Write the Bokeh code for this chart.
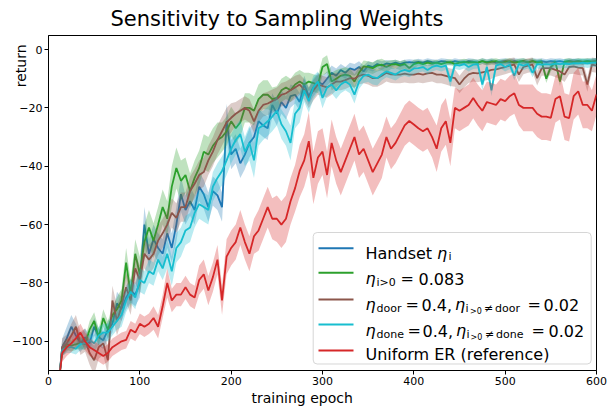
import math
from bokeh.plotting import figure
from bokeh.models import Label, BoxAnnotation, FixedTicker, Range1d, Title
from bokeh.embed import file_html
from bokeh.resources import INLINE

# ---------------- data ----------------
epochs = [12] + list(range(15, 601, 5))

x_ticks = [0, 100, 200, 300, 400, 500, 600]
x_tick_labels = ["0", "100", "200", "300", "400", "500", "600"]
y_ticks = [0, -20, -40, -60, -80, -100]
y_tick_labels = ["0", "\u221220", "\u221240", "\u221260", "\u221280", "\u2212100"]

handset = [
    -112, -102, -99, -95, -98, -100.7, -98.6, -100.7, -95, -98.6,
    -99.6, -96, -94, -87, -89, -85, -82.6, -84, -80, -60,
    -70, -65, -68, -70, -63, -68, -60, -49.6, -55, -52,
    -55, -47, -49.6, -54, -48.5, -50, -54, -24.6, -36, -34,
    -39, -36, -32, -30, -24.6, -26, -27, -19, -22, -18,
    -20, -16, -15.5, -18, -12, -16, -13, -11, -12, -10,
    -8, -9, -7, -8, -6.5, -7, -6, -7.5, -5.5, -6,
    -5, -5.5, -4.8, -5, -4.5, -5, -4.5, -4.3, -4.5, -4.2,
    -4.5, -4, -4.3, -4.5, -4, -4.2, -4.5, -4, -4.3, -4.5,
    -4, -4.2, -4.5, -4, -4.3, -4, -4.5, -4.2, -4, -4.3,
    -4, -4.2, -4, -4.5, -4, -4.2, -4, -4.3, -4, -4.2,
    -4, -4.3, -4, -4.2, -4, -4.3, -4, -4.2, -4,
]
handset_sd = [
    3, 3, 4, 4, 4, 3, 3, 3, 3, 3,
    3, 3, 3, 4, 4, 4, 4, 4, 5, 6,
    5, 5, 5, 5, 5, 5, 6, 6, 5, 5,
    5, 5, 5, 5, 5, 5, 5, 6, 5, 5,
    5, 5, 5, 5, 4, 4, 4, 4, 4, 4,
    4, 4, 3, 3, 3, 3, 3, 3, 3, 2.5,
    2.5, 2.5, 2, 2, 2, 2, 2, 2, 1.5, 1.5,
    1.5, 1.5, 1.2, 1.2, 1, 1, 1, 1, 1, 1,
    1, 1, 1, 1, 1, 1, 1, 1, 1, 1,
    1, 1, 1, 1, 1, 1, 1, 1, 1, 1,
    1, 1, 1, 1, 1, 1, 1, 1, 1, 1,
    1, 1, 1, 1, 1, 1, 1, 1, 1,
]

eta_all = [
    -112, -103, -101, -101.5, -101, -100.5, -101, -96, -93, -98.6,
    -92, -96, -91, -89, -86, -73, -84, -70, -77, -66,
    -61, -65.5, -60, -54, -58, -47, -40.6, -45, -43, -48.5,
    -44, -40.6, -35, -36, -33, -31, -30, -28, -24.6, -27,
    -25, -20, -20, -21, -17, -15.5, -15.5, -17, -16.6, -14,
    -13, -14, -12, -11, -12, -11, -11.5, -12, -6, -5,
    -11, -10, -9, -8.6, -9, -11, -8, -5.8, -6, -6.4,
    -5.5, -5.2, -6, -5.2, -5, -5.5, -5, -6.4, -5, -4.5,
    -5, -4.5, -4.8, -4.5, -5, -4.5, -4.3, -5, -4.5, -4.2,
    -4.5, -4.3, -4.5, -4, -4.5, -4.2, -4, -4.5, -4.2, -4,
    -4.5, -4.2, -4, -4.3, -4, -4.5, -4.2, -10, -6, -4.3,
    -11, -4.2, -4, -4.3, -4, -4.2, -4, -4.2, -4,
]
eta_all_sd = [
    2, 2, 2, 2, 2, 2, 2, 3, 3, 3,
    3, 3, 3, 4, 4, 5, 5, 5, 6, 6,
    6, 6, 6, 6, 6, 7, 7, 7, 6, 6,
    6, 6, 6, 6, 6, 6, 5, 5, 5, 5,
    5, 5, 5, 5, 5, 5, 5, 4, 4, 4,
    4, 4, 4, 4, 4, 3, 3, 3, 3, 3,
    3, 3, 2.5, 2.5, 2.5, 2.5, 2, 2, 2, 2,
    2, 2, 2, 1.5, 1.5, 1.5, 1.5, 1.5, 1.5, 1,
    1, 1, 1, 1, 1, 1, 1, 1, 1, 1,
    1, 1, 1, 1, 1, 1, 1, 1, 1, 1,
    1, 1, 1, 1, 1, 1, 1, 1.5, 1.5, 1,
    1.5, 1, 1, 1, 1, 1, 1, 1, 1,
]

eta_door = [
    -112, -102, -100.7, -98, -95, -100.7, -99.6, -104, -106.5, -102,
    -100.7, -106.5, -86, -93, -88, -81.5, -86, -75, -79, -70,
    -72, -70, -65.5, -63, -60, -56, -57.7, -54, -54, -48.5,
    -46, -43, -42, -38, -35, -31, -28, -25, -23.4, -22,
    -21, -20, -21, -24.6, -21, -19, -18.5, -17.7, -17, -15.5,
    -15, -14, -13, -12, -13.7, -16.6, -14, -12, -12.5, -13,
    -12, -11, -11, -10.5, -9.8, -10, -9, -8.6, -9, -9.8,
    -9.8, -9, -8, -8.5, -8.6, -8.6, -8.3, -8.6, -8.6, -8.3,
    -8.6, -8.2, -8, -8.6, -8.6, -9, -9.5, -9.8, -12, -10,
    -8.5, -8, -8.2, -7.8, -7.5, -7, -6.8, -6.4, -6, -5.5,
    -5.2, -8.6, -6, -5.5, -5.2, -9.8, -6.5, -6.4, -6.4, -7,
    -7.5, -8.6, -6, -5.8, -6.2, -6.4, -12, -5.2, -5.5,
]
eta_door_sd = [
    3, 3, 3, 4, 4, 4, 4, 4, 5, 4,
    4, 5, 5, 5, 5, 5, 5, 5, 5, 5,
    5, 5, 5, 5, 5, 5, 5, 5, 5, 5,
    5, 5, 5, 5, 5, 5, 5, 5, 5, 4,
    4, 4, 4, 4, 4, 4, 4, 4, 4, 4,
    4, 4, 4, 3.5, 3.5, 3.5, 3.5, 3.5, 3.5, 3.5,
    3.5, 3, 3, 3, 3, 3, 3, 3, 3, 3,
    3, 3, 3, 3, 3, 3, 3, 3, 3, 3,
    3, 3, 3, 3, 3, 3, 3, 3, 3, 3,
    3, 3, 3, 3, 3, 3, 2.5, 2.5, 2.5, 2.5,
    2.5, 2.5, 2.5, 2.5, 2.5, 2.5, 2.5, 2.5, 2.5, 2.5,
    2.5, 2.5, 2.5, 2.5, 2.5, 2.5, 2.5, 2.5, 2.5,
]

eta_done = [
    -112, -103, -102, -102, -102.5, -101, -100.7, -99.6, -100.7, -98,
    -97, -97, -95, -93, -91, -86, -83, -85, -79, -80,
    -76, -77, -72, -75, -70, -76, -68, -66, -62, -61,
    -56, -53, -54, -55, -47, -44, -41.6, -38, -34, -31,
    -29, -35, -32, -38, -27, -26, -24.6, -23, -21, -25.6,
    -28, -32, -22, -20, -14, -17.7, -13, -11, -16.6, -13,
    -12, -14, -12, -11, -12, -15.5, -11, -9, -8.6, -9.5,
    -9.8, -8.5, -7.5, -8, -8.6, -7.5, -7, -7.5, -6.5, -6.4,
    -6, -7, -6, -5.5, -6, -5.5, -11, -5.2, -5.5, -5,
    -6, -5.2, -5, -12, -6, -14, -5.5, -5, -6, -5.2,
    -9, -5, -5.5, -5, -8, -5, -5.2, -5, -5.2, -4.8,
    -5, -4.8, -5, -4.7, -4.8, -4.5, -4.8, -4.5, -4.5,
]
eta_done_sd = [
    2, 2, 2, 2, 2, 2, 2, 2, 3, 3,
    3, 3, 3, 3, 4, 4, 4, 4, 4, 4,
    4, 4, 4, 4, 5, 5, 5, 5, 5, 5,
    5, 5, 5, 5, 5, 5, 5, 5, 5, 5,
    5, 5, 6, 6, 6, 5, 5, 5, 5, 5,
    5, 6, 5, 5, 4, 4, 4, 3.5, 3.5, 3,
    3, 3, 3, 3, 3, 3, 2.5, 2.5, 2.5, 2.5,
    2.5, 2, 2, 2, 2, 2, 2, 2, 2, 1.5,
    1.5, 1.5, 1.5, 1.5, 1.5, 1.5, 2, 1.5, 1.5, 1.5,
    1.5, 1.5, 1.5, 2, 1.5, 2, 1.5, 1.5, 1.5, 1.5,
    1.5, 1.5, 1.5, 1.5, 1.5, 1.5, 1.5, 1.5, 1.5, 1.5,
    1.5, 1.5, 1.5, 1.5, 1.5, 1.5, 1.5, 1.5, 1.5,
]

uniform_er = [
    -112, -104, -102, -100.7, -99, -97, -100, -102, -103, -104,
    -105, -104, -102, -101, -100, -99.5, -96, -97, -94, -95,
    -94, -92, -95, -88, -80, -86, -84, -84, -81.5, -84,
    -85, -79, -77, -82.6, -78, -72, -86, -71, -68, -66,
    -61, -66, -70, -64, -62, -58, -54, -58, -58, -60,
    -58, -52, -47.5, -41.6, -38, -31.4, -44, -37, -35, -43,
    -32, -38, -42, -38, -34, -30, -36, -34, -38, -42,
    -39, -36, -30, -34, -32, -29, -26, -24.5, -25.7, -27,
    -28, -27, -30, -34, -27, -24.6, -32, -20, -21, -20,
    -19, -16.6, -19, -21, -18, -18.5, -19, -17, -17.7, -16,
    -15, -19, -20, -20, -20, -22, -23, -23, -23.4, -17,
    -16, -23, -23.5, -16, -14.3, -19, -19, -21, -15.4,
]
uniform_er_sd = [
    2, 3, 3, 3, 3, 3, 3, 3, 3, 3,
    3, 3, 3, 3, 3, 3, 3, 3, 3.5, 3.5,
    3.5, 4, 4, 4, 5, 4, 4, 4, 4, 4,
    4, 5, 5, 5, 5, 5, 5, 6, 6, 6,
    6, 6, 6, 6, 7, 7, 7, 7, 8, 8,
    8, 8, 8, 9, 9, 10, 9, 9, 8, 8,
    8, 8, 8, 8, 8, 8, 8, 8, 8, 8,
    8, 8, 7, 7, 7, 7, 7, 7, 7, 7,
    7, 7, 7, 8, 8, 8, 8, 7, 7, 7,
    7, 7, 7, 7, 7, 7, 7, 7, 7, 7,
    7, 7, 8, 8, 8, 8, 8, 8, 8, 8,
    8, 8, 8, 8, 8, 8, 8, 7, 7,
]

series = [
    (handset, handset_sd, "#1f77b4"),
    (eta_all, eta_all_sd, "#2ca02c"),
    (eta_door, eta_door_sd, "#8c564b"),
    (eta_done, eta_done_sd, "#17becf"),
    (uniform_er, uniform_er_sd, "#d62728"),
]

# ---------------- figure ----------------
FONT = "DejaVu Sans"

p = figure(width=607, height=408, output_backend="svg", toolbar_location=None,
           x_range=Range1d(0, 600), y_range=Range1d(-110, 4.8),
           min_border_left=48, min_border_right=11, min_border_top=34,
           min_border_bottom=38)

# title (left-aligned with an offset, as in the reference)
p.title.text = "Sensitivity to Sampling Weights"
p.title.text_font = FONT
p.title.text_font_size = "21px"
p.title.text_font_style = "normal"
p.title.text_color = "black"
p.title.align = "left"
p.title.offset = 62
p.title.standoff = 9
p.title.vertical_align = "bottom"

p.xgrid.visible = False
p.ygrid.visible = False
p.outline_line_color = "black"
p.outline_line_alpha = 1
p.outline_line_width = 1
p.background_fill_color = "white"
p.border_fill_color = "white"

p.xaxis.ticker = FixedTicker(ticks=x_ticks)
p.xaxis.major_label_overrides = dict(zip(x_ticks, x_tick_labels))
p.yaxis.ticker = FixedTicker(ticks=y_ticks)
p.yaxis.major_label_overrides = dict(zip(y_ticks, y_tick_labels))
for ax in (p.xaxis, p.yaxis):
    ax.axis_line_color = "black"
    ax.major_tick_line_color = "black"
    ax.major_tick_out = 4
    ax.major_tick_in = 0
    ax.minor_tick_line_color = None
    ax.major_label_text_font = FONT
    ax.major_label_text_font_size = "11px"
    ax.major_label_text_color = "black"
    ax.major_label_standoff = 2

# y axis label, rotated, placed toward the top end as in the reference
yax = p.yaxis[0]
yax.axis_label = "return\u00a0\u00a0"
yax.axis_label_text_font = FONT
yax.axis_label_text_font_size = "14px"
yax.axis_label_text_font_style = "normal"
yax.axis_label_text_color = "black"
yax.axis_label_standoff = -12
yax.axis_label_orientation = math.pi / 2
if "axis_label_align" in yax.properties():
    yax.axis_label_align = "end"

# x axis label as a left-offset title below the axis
p.add_layout(Title(text="training epoch", align="left", offset=203, standoff=1,
                   text_font=FONT, text_font_size="14px",
                   text_font_style="normal", text_color="black"), "below")

for vals, sd, col in series:
    lo = [v - s for v, s in zip(vals, sd)]
    hi = [v + s for v, s in zip(vals, sd)]
    p.varea(x=epochs, y1=lo, y2=hi, fill_color=col, fill_alpha=0.3)
    p.line(epochs, vals, line_color=col, line_width=1.8)

def lab(text, x, y, size="16px", style="normal"):
    p.add_layout(Label(x=x, y=y, x_units="screen", y_units="screen", text=text,
                       text_font=FONT, text_font_size=size,
                       text_font_style=style, text_align="left",
                       text_baseline="alphabetic", text_color="black"))

# legend (box, line samples, and mathtext-like labels)
p.add_layout(BoxAnnotation(left=264.7, right=542.7, top=138, bottom=6.5,
                           left_units="screen", right_units="screen",
                           top_units="screen", bottom_units="screen",
                           fill_color="white", fill_alpha=0.8,
                           line_color="#cccccc", line_alpha=0.8,
                           line_width=1, border_radius=4))

sample_y = [122.3, 97.7, 71, 46, 20]
for (vals, sd, col), sy in zip(series, sample_y):
    p.add_layout(BoxAnnotation(left=270, right=305, top=sy + 1, bottom=sy - 1,
                               left_units="screen", right_units="screen",
                               top_units="screen", bottom_units="screen",
                               fill_color=col, fill_alpha=1, line_alpha=0))

SUB = "11px"
SUBSUB = "8px"
# row 1
lab("Handset", 317, 117)
lab("\u03b7", 388.5, 117, style="italic")
lab("i", 400, 114.5, size=SUB)
# row 2
lab("\u03b7", 317, 92, style="italic")
lab("i>0", 328, 88.5, size=SUB)
lab("=", 352, 92)
lab("0.083", 370, 92)
# row 3
lab("\u03b7", 317, 66, style="italic")
lab("door", 328, 62, size=SUB)
lab("=", 357, 66)
lab("0.4,", 373, 66)
lab("\u03b7", 406.5, 66, style="italic")
lab("i", 417, 62, size=SUB)
lab(">0", 421.5, 59.5, size=SUBSUB)
lab("\u2260", 435.5, 62, size=SUB)
lab("door", 446.5, 62, size=SUB)
lab("=", 479, 66)
lab("0.02", 495, 66)
# row 4
lab("\u03b7", 317, 40, style="italic")
lab("done", 328, 36, size=SUB)
lab("=", 359, 40)
lab("0.4,", 374, 40)
lab("\u03b7", 407.5, 40, style="italic")
lab("i", 418, 36, size=SUB)
lab(">0", 422, 33.5, size=SUBSUB)
lab("\u2260", 436.5, 36, size=SUB)
lab("done", 447.5, 36, size=SUB)
lab("=", 483, 40)
lab("0.02", 500, 40)
# row 5
lab("Uniform ER (reference)", 317, 16)

open("out.html", "w").write(file_html(p, INLINE))
